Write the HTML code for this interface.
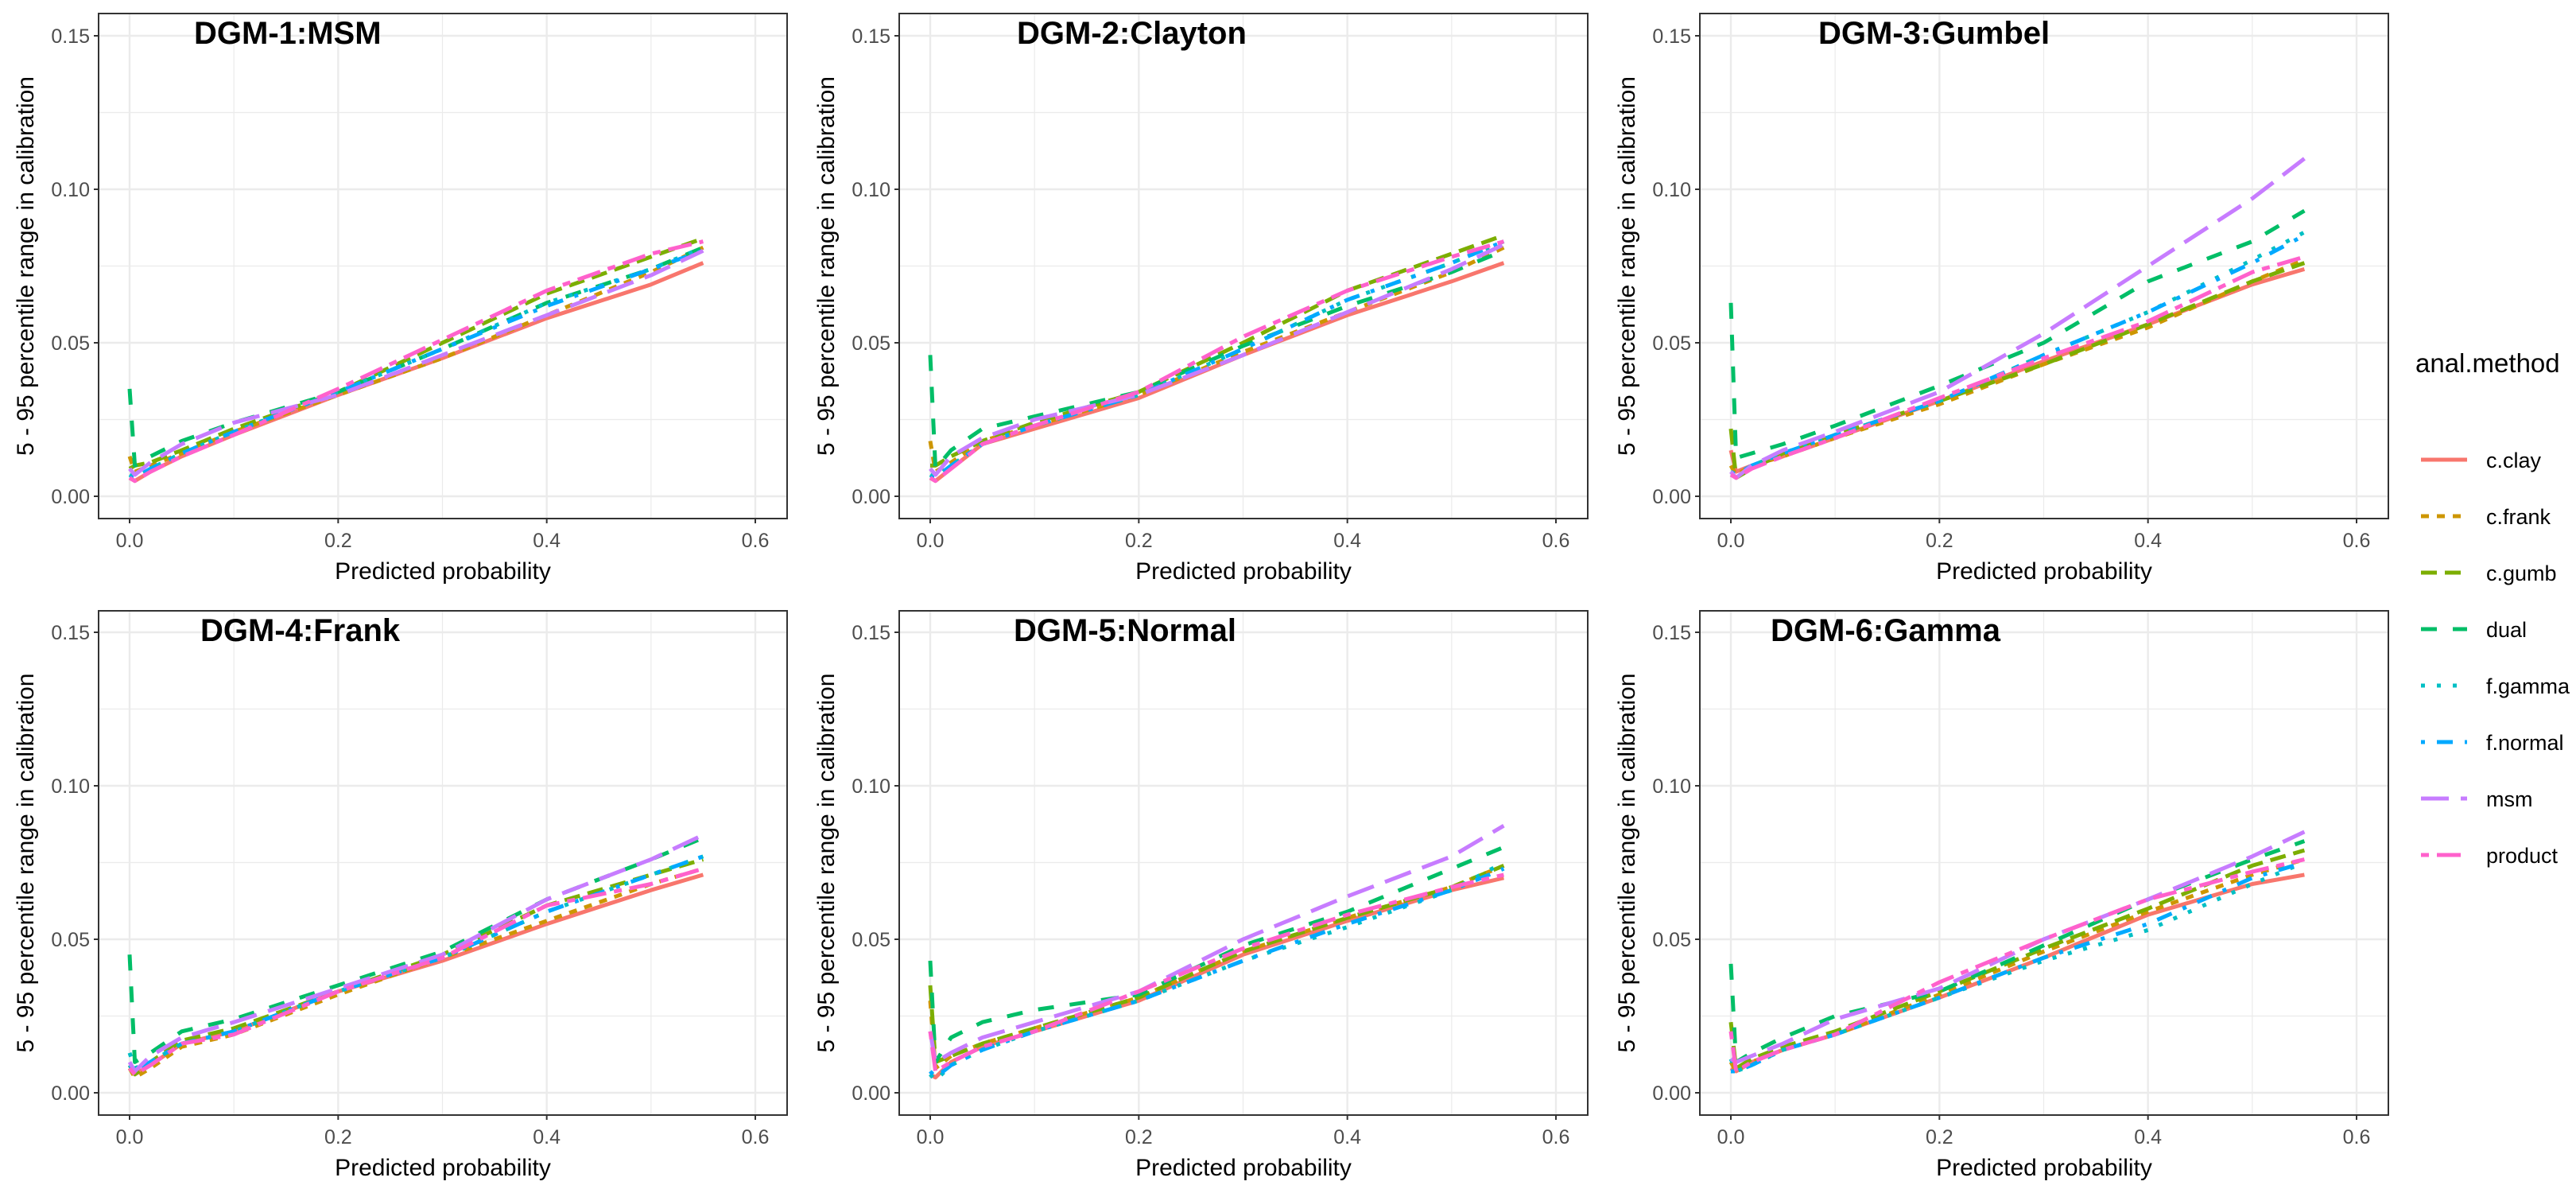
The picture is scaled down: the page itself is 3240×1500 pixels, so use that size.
<!DOCTYPE html>
<html><head><meta charset="utf-8">
<style>
html,body{margin:0;padding:0;background:#fff;}
svg{display:block;font-family:"Liberation Sans",sans-serif;}
</style></head>
<body>
<svg id="chart" width="3240" height="1500" viewBox="0 0 3240 1500" xmlns="http://www.w3.org/2000/svg">
<rect x="0" y="0" width="3240" height="1500" fill="#fff"/>
</svg>
<script>
const xVals = [0,0.005,0.02,0.05,0.1,0.2,0.3,0.4,0.5,0.55];
const methods = ["c.clay","c.frank","c.gumb","dual","f.gamma","f.normal","msm","product"];
const panelTitles = ["DGM-1:MSM","DGM-2:Clayton","DGM-3:Gumbel","DGM-4:Frank","DGM-5:Normal","DGM-6:Gamma"];
const xTicks = [0,0.2,0.4,0.6];
const xTickLabels = ["0.0","0.2","0.4","0.6"];
const yTicks = [0,0.05,0.10,0.15];
const yTickLabels = ["0.00","0.05","0.10","0.15"];

const p1 = [
[0.006,0.005,0.008,0.013,0.020,0.033,0.045,0.058,0.069,0.076],
[0.013,0.008,0.010,0.014,0.021,0.033,0.045,0.059,0.073,0.081],
[0.009,0.010,0.011,0.015,0.022,0.034,0.050,0.066,0.078,0.084],
[0.035,0.010,0.013,0.018,0.024,0.034,0.048,0.063,0.074,0.081],
[0.007,0.006,0.009,0.014,0.021,0.034,0.048,0.063,0.074,0.081],
[0.006,0.006,0.009,0.014,0.021,0.034,0.048,0.062,0.074,0.080],
[0.009,0.007,0.011,0.017,0.024,0.033,0.046,0.059,0.072,0.080],
[0.006,0.005,0.008,0.013,0.020,0.035,0.051,0.067,0.079,0.083]];
const p2 = [
[0.006,0.005,0.009,0.017,0.022,0.032,0.046,0.059,0.070,0.076],
[0.018,0.008,0.011,0.018,0.023,0.033,0.047,0.060,0.073,0.081],
[0.010,0.010,0.013,0.018,0.024,0.034,0.050,0.067,0.079,0.085],
[0.046,0.009,0.015,0.022,0.026,0.034,0.049,0.062,0.073,0.080],
[0.007,0.006,0.010,0.017,0.023,0.033,0.048,0.064,0.076,0.083],
[0.006,0.006,0.010,0.017,0.023,0.033,0.048,0.064,0.076,0.083],
[0.009,0.007,0.013,0.019,0.025,0.033,0.046,0.060,0.074,0.082],
[0.006,0.005,0.009,0.017,0.023,0.034,0.052,0.067,0.078,0.083]];
const p3 = [
[0.015,0.008,0.010,0.013,0.019,0.031,0.044,0.056,0.069,0.074],
[0.010,0.007,0.010,0.013,0.019,0.030,0.043,0.055,0.070,0.077],
[0.022,0.006,0.009,0.014,0.020,0.031,0.043,0.056,0.070,0.076],
[0.063,0.0125,0.014,0.017,0.023,0.036,0.050,0.070,0.083,0.093],
[0.008,0.007,0.010,0.014,0.020,0.031,0.046,0.060,0.077,0.086],
[0.008,0.007,0.010,0.014,0.020,0.031,0.046,0.060,0.076,0.085],
[0.008,0.006,0.010,0.015,0.021,0.034,0.053,0.075,0.097,0.110],
[0.007,0.006,0.009,0.013,0.019,0.032,0.045,0.057,0.073,0.078]];
const p4 = [
[0.008,0.006,0.009,0.016,0.020,0.033,0.043,0.055,0.066,0.071],
[0.008,0.005,0.008,0.015,0.019,0.032,0.044,0.056,0.068,0.073],
[0.009,0.006,0.010,0.017,0.021,0.033,0.045,0.061,0.071,0.076],
[0.045,0.010,0.013,0.020,0.024,0.035,0.046,0.063,0.076,0.083],
[0.013,0.008,0.010,0.016,0.020,0.033,0.044,0.059,0.071,0.077],
[0.009,0.007,0.010,0.016,0.020,0.033,0.044,0.059,0.071,0.077],
[0.010,0.007,0.012,0.018,0.023,0.034,0.045,0.063,0.076,0.084],
[0.008,0.006,0.009,0.016,0.019,0.033,0.044,0.061,0.068,0.073]];
const p5 = [
[0.006,0.005,0.010,0.015,0.020,0.030,0.045,0.056,0.066,0.070],
[0.030,0.008,0.012,0.016,0.021,0.031,0.046,0.057,0.067,0.074],
[0.035,0.010,0.012,0.016,0.021,0.031,0.046,0.057,0.067,0.074],
[0.043,0.010,0.018,0.023,0.027,0.032,0.048,0.059,0.073,0.080],
[0.006,0.004,0.009,0.014,0.020,0.030,0.043,0.054,0.066,0.075],
[0.007,0.005,0.009,0.014,0.020,0.030,0.043,0.055,0.066,0.073],
[0.020,0.010,0.013,0.018,0.023,0.033,0.050,0.064,0.077,0.087],
[0.020,0.007,0.010,0.015,0.020,0.033,0.047,0.058,0.067,0.071]];
const p6 = [
[0.008,0.007,0.010,0.014,0.019,0.031,0.044,0.058,0.068,0.071],
[0.010,0.007,0.010,0.014,0.019,0.032,0.046,0.059,0.071,0.076],
[0.023,0.008,0.011,0.015,0.020,0.033,0.047,0.060,0.074,0.079],
[0.042,0.010,0.013,0.018,0.025,0.033,0.048,0.063,0.076,0.082],
[0.011,0.007,0.009,0.014,0.019,0.031,0.043,0.053,0.068,0.075],
[0.007,0.007,0.009,0.014,0.019,0.031,0.044,0.055,0.070,0.075],
[0.011,0.010,0.012,0.016,0.024,0.034,0.050,0.063,0.077,0.085],
[0.020,0.007,0.010,0.014,0.019,0.036,0.050,0.063,0.072,0.076]];
const panelData = [p1,p2,p3,p4,p5,p6];

const colors = ["#F8766D","#CD9600","#7CAE00","#00BE67","#00BFC4","#00A9FF","#C77CFF","#FF61CC"];
const dashes = ["","10 10","20 10","20 20","5 15","5 15 20 15","35 15","10 10 30 10"];
const lefts = [124,1131,2138];
const titleStarts = [244,1279,2287,252,1275,2227];
const W = 866;
const rows = [{top:17,bottom:652,y0:624},{top:768,bottom:1402,y0:1374}];
const NS = "http://www.w3.org/2000/svg";
const svg = document.getElementById("chart");
function mk(tag, attrs, parent){
  const e = document.createElementNS(NS, tag);
  for (const k in attrs) e.setAttribute(k, attrs[k]);
  (parent||svg).appendChild(e);
  return e;
}

panelData.forEach((series, pi) => {
  const col = pi % 3, row = rows[Math.floor(pi/3)];
  const L = lefts[col];
  const xs = v => L + 39 + v * (787/0.6);
  const ys = v => row.y0 - v * 3860;
  const g = mk("g", {});
  
  
  [0.1,0.3,0.5].forEach(v => mk("line",{x1:xs(v),x2:xs(v),y1:row.top,y2:row.bottom,stroke:"#EBEBEB","stroke-width":1.2},g));
  [0.025,0.075,0.125].forEach(v => mk("line",{x1:L,x2:L+W,y1:ys(v),y2:ys(v),stroke:"#EBEBEB","stroke-width":1.2},g));
  xTicks.forEach(v => mk("line",{x1:xs(v),x2:xs(v),y1:row.top,y2:row.bottom,stroke:"#EBEBEB","stroke-width":2.4},g));
  yTicks.forEach(v => mk("line",{x1:L,x2:L+W,y1:ys(v),y2:ys(v),stroke:"#EBEBEB","stroke-width":2.4},g));
  series.forEach((vals, si) => {
    let d = "";
    vals.forEach((v, i) => { d += (i ? "L" : "M") + xs(xVals[i]).toFixed(1) + "," + ys(v).toFixed(1); });
    const p = mk("path",{d:d,fill:"none",stroke:colors[si],"stroke-width":5,"stroke-dasharray":dashes[si],"stroke-linejoin":"round"},g);
    
    
  });
  mk("rect",{x:L,y:row.top,width:W,height:row.bottom-row.top,fill:"none",stroke:"#333","stroke-width":2},g);
  xTicks.forEach((v,i) => {
    mk("line",{x1:xs(v),x2:xs(v),y1:row.bottom,y2:row.bottom+6,stroke:"#333","stroke-width":2},g);
    const t = mk("text",{x:xs(v),y:row.bottom+36,"text-anchor":"middle","font-size":25,fill:"#4D4D4D"},g);
    t.textContent = xTickLabels[i];
    
    
  });
  yTicks.forEach((v,i) => {
    mk("line",{x1:L-6,x2:L,y1:ys(v),y2:ys(v),stroke:"#333","stroke-width":2},g);
    const t = mk("text",{x:L-11,y:ys(v)+9,"text-anchor":"end","font-size":25,fill:"#4D4D4D"},g);
    t.textContent = yTickLabels[i];
    
    
  });
  const xt = mk("text",{x:L+W/2,y:row.bottom+76,"text-anchor":"middle","font-size":30,fill:"#000"},g);
  xt.textContent = "Predicted probability";
  
  
  const cy = (row.top+row.bottom)/2;
  const yt = mk("text",{x:L-82,y:cy,"text-anchor":"middle","font-size":30,fill:"#000",transform:"rotate(-90 "+(L-82)+" "+cy+")"},g);
  yt.textContent = "5 - 95 percentile range in calibration";
  
  
  const tt = mk("text",{x:titleStarts[pi],y:row.top+38,"font-size":40,"font-weight":"bold",fill:"#000"},g);
  tt.textContent = panelTitles[pi];
  
  
});

const lg = mk("g",{});


const lt = mk("text",{x:3038,y:468,"font-size":33,fill:"#000"},lg);
lt.textContent = "anal.method";


methods.forEach((m, i) => {
  const y = 578 + i*71;
  const e = mk("g",{},lg);
  
  
  mk("line",{x1:3045,x2:3103,y1:y,y2:y,stroke:colors[i],"stroke-width":5,"stroke-dasharray":dashes[i]},e);
  const t = mk("text",{x:3127,y:y+10,"font-size":27,fill:"#000"},e);
  t.textContent = m;
});
</script>
</body></html>
